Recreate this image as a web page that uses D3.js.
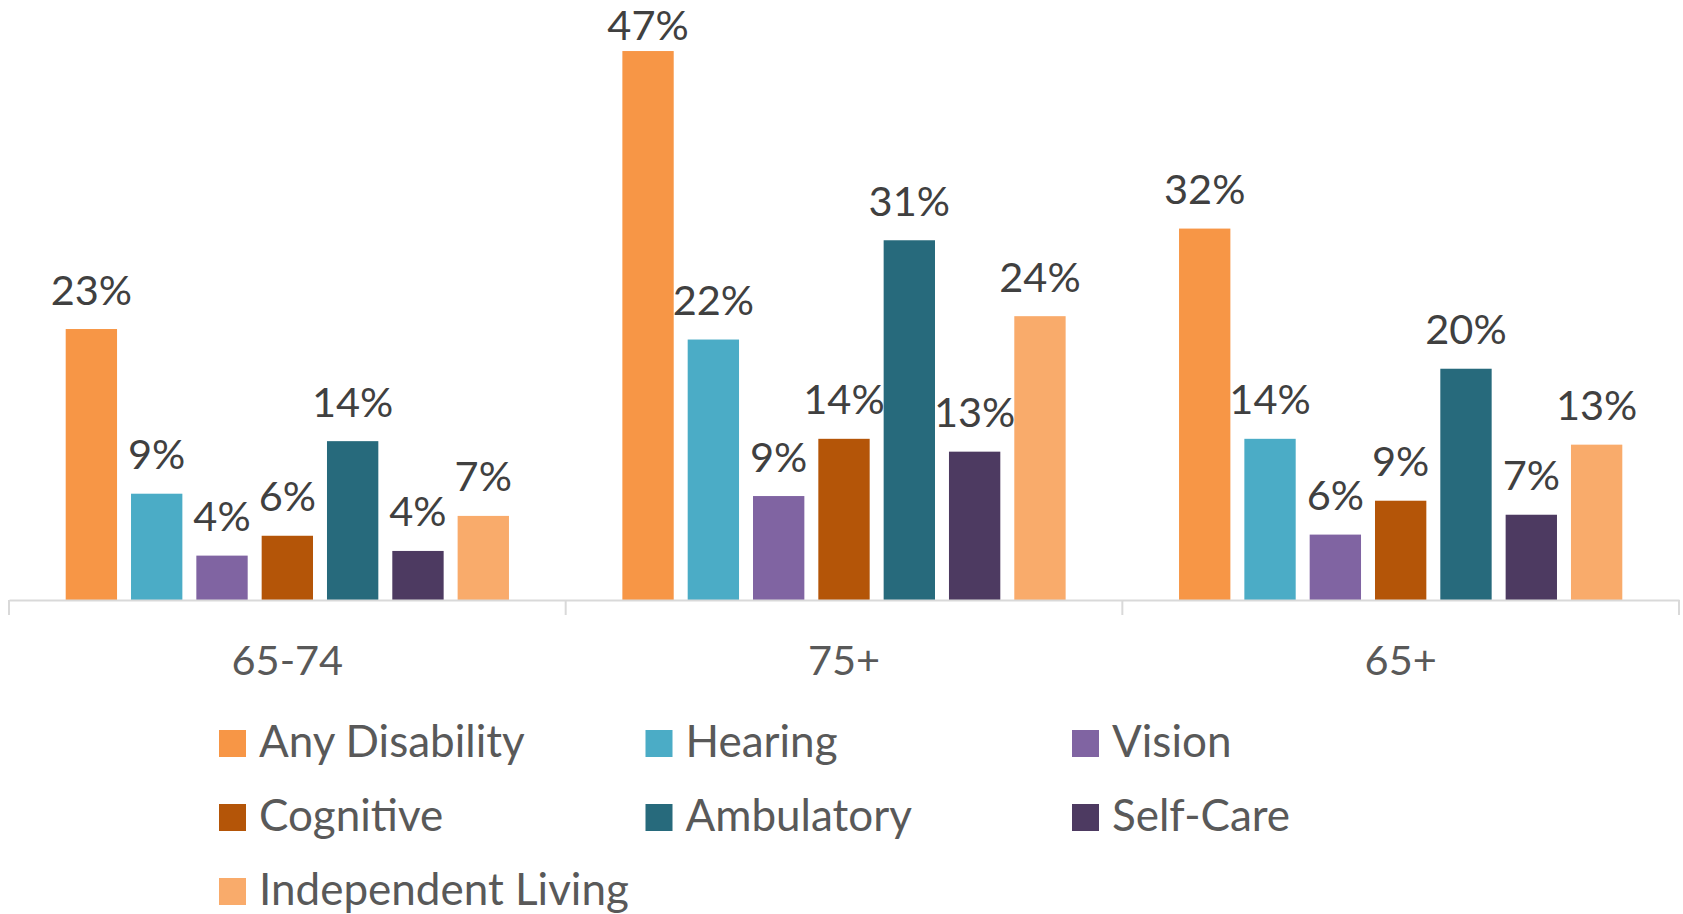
<!DOCTYPE html>
<html>
<head>
<meta charset="utf-8">
<script src="https://d3js.org/d3.v7.min.js"></script>
<style>
  html, body { margin: 0; padding: 0; background: #ffffff; }
  svg { display: block; }
  text { font-family: Lato, "Open Sans", sans-serif; }
</style>
</head>
<body>
<svg id="chart" width="1683" height="914"></svg>
<script>
// ---- data ----
const categories = ["65-74", "75+", "65+"];
const seriesNames = ["Any Disability", "Hearing", "Vision", "Cognitive", "Ambulatory", "Self-Care", "Independent Living"];
const anyDisability     = [23.2, 47.0, 31.8];
const hearing           = [9.1, 22.3, 13.8];
const vision            = [3.8, 8.9, 5.6];
const cognitive         = [5.5, 13.8, 8.5];
const ambulatory        = [13.6, 30.8, 19.8];
const selfCare          = [4.2, 12.7, 7.3];
const independentLiving = [7.2, 24.3, 13.3];
const seriesValues = [anyDisability, hearing, vision, cognitive, ambulatory, selfCare, independentLiving];
const seriesColors = ["#F79646", "#4BACC6", "#8064A2", "#B45508", "#276A7C", "#4D3A61", "#F9AB6B"];

// ---- layout ----
const svg = d3.select("#chart");
const axisY = 600;
const fontSize = 41.5;
const legendFontSize = 44;

const x0 = d3.scaleBand().domain(categories).range([9, 1679]).padding(0);
const groupPad = 56.7;
const x1 = d3.scaleBand().domain(seriesNames)
  .range([groupPad, x0.bandwidth() - groupPad])
  .paddingInner(0.214).paddingOuter(0);
const y = d3.scaleLinear().domain([0, 50]).range([axisY, axisY - 50 * 11.68]);

const data = [];
categories.forEach((c, ci) => {
  seriesNames.forEach((s, si) => {
    data.push({ cat: c, series: s, value: seriesValues[si][ci], color: seriesColors[si] });
  });
});

// bars
svg.append("g").selectAll("rect").data(data).join("rect")
  .attr("x", d => x0(d.cat) + x1(d.series))
  .attr("y", d => y(d.value))
  .attr("width", x1.bandwidth())
  .attr("height", d => y(0) - y(d.value))
  .attr("fill", d => d.color);

// data labels
svg.append("g").selectAll("text").data(data).join("text")
  .attr("x", d => x0(d.cat) + x1(d.series) + x1.bandwidth() / 2)
  .attr("y", d => Math.max(y(d.value) - 24.5, 40))
  .attr("text-anchor", "middle")
  .attr("font-size", fontSize)
  .attr("fill", "#404040")
  .text(d => Math.round(d.value) + "%");

// x axis (category labels)
const axis = svg.append("g")
  .attr("transform", `translate(0,${axisY})`)
  .call(d3.axisBottom(x0).tickSize(0).tickSizeOuter(0).tickPadding(46));
axis.select(".domain").attr("stroke", "#D9D9D9").attr("stroke-width", 2);
axis.selectAll(".tick text")
  .attr("font-size", fontSize)
  .attr("font-family", "Lato, 'Open Sans', sans-serif")
  .attr("fill", "#595959");

// boundary tick marks
const boundaries = categories.map(c => x0(c)).concat([x0(categories[categories.length - 1]) + x0.bandwidth()]);
svg.append("g").selectAll("line").data(boundaries).join("line")
  .attr("x1", d => d).attr("x2", d => d)
  .attr("y1", axisY).attr("y2", axisY + 15)
  .attr("stroke", "#D9D9D9").attr("stroke-width", 2);

// legend
const legend = svg.append("g");
const legItems = legend.selectAll("g").data(seriesNames).join("g")
  .attr("transform", (d, i) => `translate(${219 + (i % 3) * 426.5},${730 + Math.floor(i / 3) * 74})`);
legItems.append("rect")
  .attr("width", 27).attr("height", 27)
  .attr("fill", (d, i) => seriesColors[i]);
legItems.append("text")
  .attr("x", 40).attr("y", 26.5)
  .attr("font-size", legendFontSize)
  .attr("fill", "#595959")
  .text(d => d);
</script>
</body>
</html>
